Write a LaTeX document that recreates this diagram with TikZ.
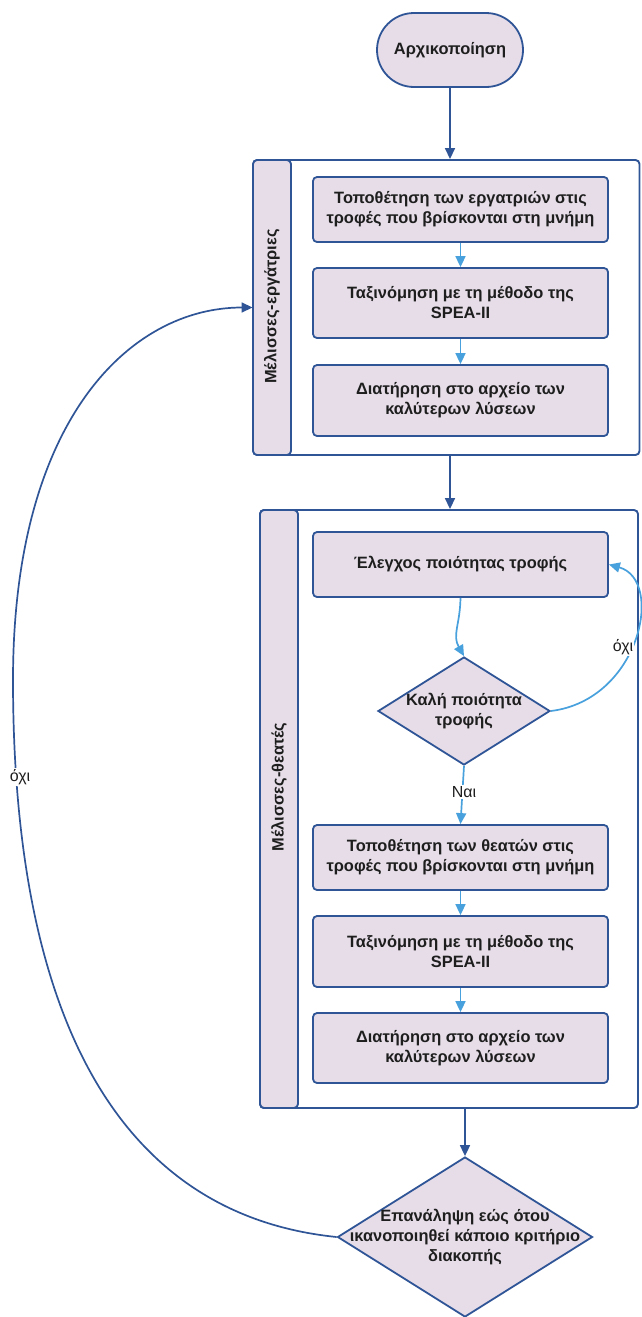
\documentclass[tikz,border=0pt]{standalone}
\usepackage{fontspec}
\setmainfont{Liberation Sans}
\usetikzlibrary{arrows.meta,shapes.geometric,calc}
\definecolor{dkb}{RGB}{47,85,151}
\definecolor{ltb}{RGB}{72,160,220}
\definecolor{lav}{RGB}{230,221,232}
\definecolor{txt}{RGB}{30,30,30}
\begin{document}
\begin{tikzpicture}[x=1pt,y=-1pt,
  boxfont/.style={font=\bfseries\fontsize{16.4}{20}\selectfont, text=txt},
  box/.style={rectangle, rounded corners=4pt, fill=lav, draw=dkb, line width=1.8pt,
    minimum width=295pt, align=center, boxfont},
  startbox/.style={rectangle, rounded corners=37pt, fill=lav, draw=dkb, line width=1.8pt,
    minimum width=146pt, minimum height=74pt, boxfont},
  lane/.style={rectangle, rounded corners=4pt, fill=white, draw=dkb, line width=1.9pt},
  hdr/.style={rectangle, rounded corners=4pt, fill=lav, draw=dkb, line width=1.9pt, minimum width=38pt},
  lanetext/.style={rotate=90, boxfont},
  dia/.style={diamond, fill=lav, draw=dkb, line width=1.8pt, inner sep=0pt},
  dkarrow/.style={draw=dkb, line width=1.7pt, -{Triangle[length=11pt,width=10pt]}},
  ltarrow/.style={draw=ltb, line width=1.7pt, -{Triangle[length=11pt,width=10pt]}},
  lbl/.style={fill=white, inner sep=1pt, font=\fontsize{16}{18}\selectfont, text=txt}
]
\useasboundingbox (0,0) rectangle (641,1317);

% start
\node[startbox] (s) at (450,50) {Αρχικοποίηση};

% lane 1
\node[lane, minimum width=386pt, minimum height=295pt] (l1) at (446.5,307.5) {};
\node[hdr, minimum height=295pt] (h1) at (272,307.5) {};
\node[lanetext] (t1) at (272,306.5) {Μέλισσες-εργάτριες};

\node[box, minimum height=65pt] (b1) at (460.5,209.5) {Τοποθέτηση των εργατριών στις\\τροφές που βρίσκονται στη μνήμη};
\node[box, minimum height=70pt] (b2) at (460.5,303) {Ταξινόμηση με τη μέθοδο της\\SPEA-II};
\node[box, minimum height=71pt] (b3) at (460.5,400.5) {Διατήρηση στο αρχείο των\\καλύτερων λύσεων};

% lane 2
\node[lane, minimum width=378pt, minimum height=598pt] (l2) at (449,809) {};
\node[hdr, minimum height=598pt] (h2) at (279,809) {};
\node[lanetext] (t2) at (279,787) {Μέλισσες-θεατές};

\node[box, minimum height=65pt] (e1) at (460.5,564.5) {Έλεγχος ποιότητας τροφής};
\node[dia, minimum width=172pt, minimum height=108pt,
  label={[boxfont, align=center]center:Καλή ποιότητα\\τροφής}] (d1) at (464,711) {};
\node[box, minimum height=65pt] (b4) at (460.5,857.5) {Τοποθέτηση των θεατών στις\\τροφές που βρίσκονται στη μνήμη};
\node[box, minimum height=71pt] (b5) at (460.5,951.5) {Ταξινόμηση με τη μέθοδο της\\SPEA-II};
\node[box, minimum height=70pt] (b6) at (460.5,1048) {Διατήρηση στο αρχείο των\\καλύτερων λύσεων};

% final decision
\node[dia, minimum width=255pt, minimum height=160pt,
  label={[boxfont, align=center]center:Επανάληψη εώς ότου\\ικανοποιηθεί κάποιο κριτήριο\\διακοπής}] (d2) at (465,1237) {};

% connectors
\draw[dkarrow] (s.south) -- (s.south |- l1.north);
\draw[dkarrow] (l1.south -| s.south) -- (l2.north -| s.south);
\draw[ltarrow] (b1.south) -- (b2.north);
\draw[ltarrow] (b2.south) -- (b3.north);
\draw[ltarrow] (e1.south) .. controls (460,625) and (452,635) .. (d1.north);
\draw[ltarrow] (d1.east) .. controls (640,700) and (665,580) .. (e1.east);
\node[lbl] (no1) at (623,647) {όχι};
\draw[ltarrow] (d1.south) -- (b4.north);
\node[lbl] (yes1) at (464,792) {Ναι};
\draw[ltarrow] (b4.south) -- (b5.north);
\draw[ltarrow] (b5.south) -- (b6.north);
\draw[dkarrow] (d2.north |- l2.south) -- (d2.north);
\draw[dkarrow] (d2.west) .. controls (120,1215) and (13,1020) .. (13,680)
   .. controls (13,420) and (130,307.5) .. (l1.west);
\node[lbl] (no2) at (20,777) {όχι};
\end{tikzpicture}
\end{document}
